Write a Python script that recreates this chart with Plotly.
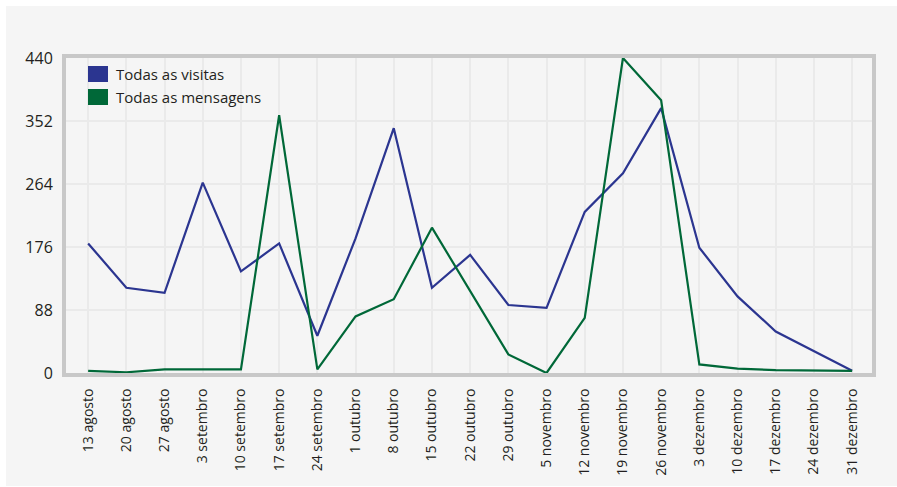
import plotly.graph_objects as go

categories = ["13 agosto", "20 agosto", "27 agosto", "3 setembro", "10 setembro",
              "17 setembro", "24 setembro", "1 outubro", "8 outubro", "15 outubro",
              "22 outubro", "29 outubro", "5 novembro", "12 novembro", "19 novembro",
              "26 novembro", "3 dezembro", "10 dezembro", "17 dezembro", "24 dezembro",
              "31 dezembro"]
visitas = [181, 119, 112, 266, 142, 181, 52, 188, 342, 119, 165, 95, 91, 225, 279,
           370, 175, 107, 58, 30, 3]
mensagens = [3, 1, 5, 5, 5, 360, 5, 79, 103, 203, 115, 26, 0, 77, 440, 381, 12, 6,
             4, 3, 3]
y_ticks = [0, 88, 176, 264, 352, 440]

W, H = 897, 487
ML, MR, MT, MB = 66, 25, 58, 114
PW, PH = W - ML - MR, H - MT - MB

def px(x):
    return (x - ML) / PW

def py(y):
    return (H - MB - y) / PH

BLUE = "#2B3590"
GREEN = "#006838"
FONT = "Open Sans"
TXT = "#231f20"

fig = go.Figure()
x_idx = list(range(len(categories)))
fig.add_trace(go.Scatter(x=x_idx, y=visitas, mode="lines", name="Todas as visitas",
                         line=dict(color=BLUE, width=2.2), showlegend=False))
fig.add_trace(go.Scatter(x=x_idx, y=mensagens, mode="lines", name="Todas as mensagens",
                         line=dict(color=GREEN, width=2.2), showlegend=False))

shapes = [
    dict(type="rect", xref="paper", yref="paper", x0=px(6), x1=px(897), y0=py(486), y1=py(6),
         fillcolor="#f5f5f5", line=dict(width=0), layer="below"),
    dict(type="rect", xref="paper", yref="paper", x0=px(88), x1=px(108), y0=py(82), y1=py(66),
         fillcolor=BLUE, line=dict(width=0)),
    dict(type="rect", xref="paper", yref="paper", x0=px(88), x1=px(108), y0=py(105), y1=py(89),
         fillcolor=GREEN, line=dict(width=0)),
]
annotations = [
    dict(text="Todas as visitas", xref="paper", yref="paper", x=px(114), y=py(74),
         xanchor="left", yanchor="middle", showarrow=False,
         font=dict(family=FONT, size=15, color=TXT)),
    dict(text="Todas as mensagens", xref="paper", yref="paper", x=px(114), y=py(97),
         xanchor="left", yanchor="middle", showarrow=False,
         font=dict(family=FONT, size=15, color=TXT)),
]

fig.update_layout(
    width=W, height=H,
    margin=dict(l=ML, r=MR, t=MT, b=MB, pad=0),
    paper_bgcolor="white", plot_bgcolor="#f5f5f5",
    shapes=shapes, annotations=annotations,
    font=dict(family=FONT, color=TXT),
)
fig.update_xaxes(
    tickmode="array", tickvals=x_idx, ticktext=categories, tickangle=-90,
    range=[-0.58, 20.52], showgrid=True, gridcolor="#eaeaea", gridwidth=2,
    showline=True, mirror=True, linecolor="#c8c8c8", linewidth=4,
    ticks="outside", ticklen=6, tickcolor="rgba(0,0,0,0)",
    tickfont=dict(family=FONT, size=14, color=TXT), zeroline=False,
)
fig.update_yaxes(
    tickmode="array", tickvals=y_ticks, ticktext=[str(v) for v in y_ticks],
    range=[0, 440], showgrid=True, gridcolor="#eaeaea", gridwidth=2,
    showline=True, mirror=True, linecolor="#c8c8c8", linewidth=4,
    ticks="outside", ticklen=6, tickcolor="rgba(0,0,0,0)",
    tickfont=dict(family=FONT, size=16, color=TXT), zeroline=False,
)

fig.write_html("out.html")
